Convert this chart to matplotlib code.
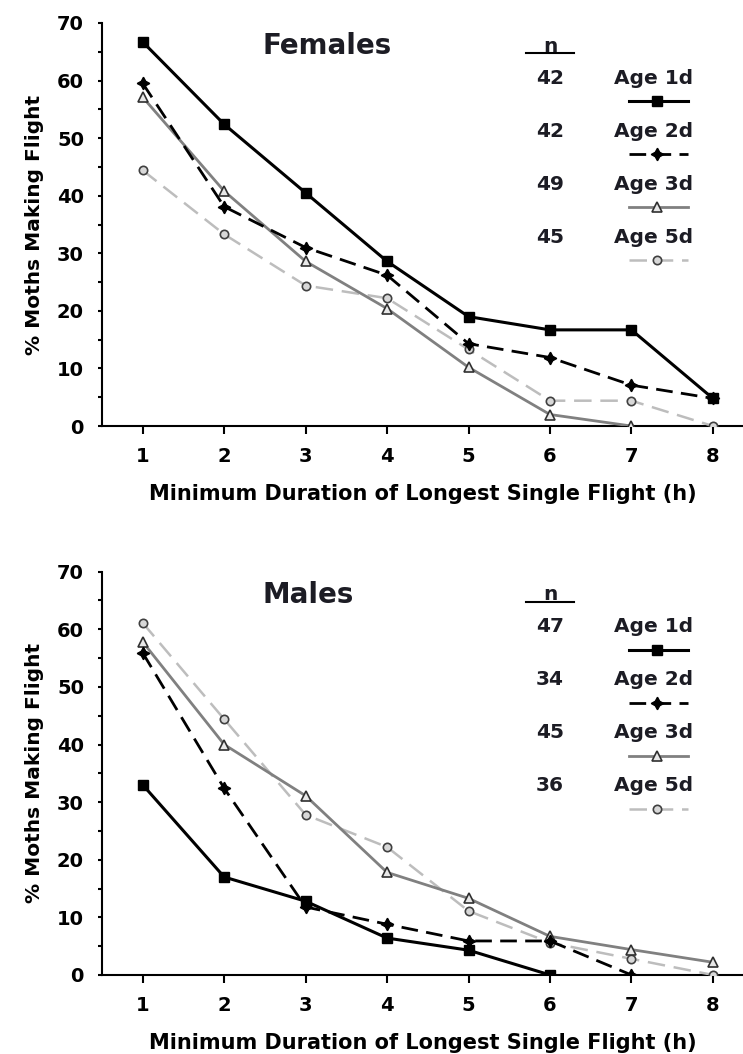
import numpy as np
import matplotlib
matplotlib.use('Agg')
import matplotlib.pyplot as plt

plt.rcParams['font.family'] = ['DejaVu Sans']
plt.rcParams['font.weight'] = 'bold'

hours = [1, 2, 3, 4, 5, 6, 7, 8]
ages = ['Age 1d', 'Age 2d', 'Age 3d', 'Age 5d']

# females, % of moths making a flight of at least x hours
fem_1d = [66.7, 52.4, 40.5, 28.6, 19.0, 16.7, 16.7, 4.8]
fem_2d = [59.5, 38.1, 31.0, 26.2, 14.3, 11.9, 7.1, 4.8]
fem_3d = [57.1, 40.8, 28.6, 20.4, 10.2, 2.0, 0.0, np.nan]
fem_5d = [44.4, 33.3, 24.4, 22.2, 13.3, 4.4, 4.4, 0.0]
fem_n = [42, 42, 49, 45]

# males
mal_1d = [33.0, 17.0, 12.8, 6.4, 4.3, 0.0, np.nan, np.nan]
mal_2d = [55.9, 32.4, 11.8, 8.8, 5.9, 5.9, 0.0, np.nan]
mal_3d = [57.8, 40.0, 31.1, 17.8, 13.3, 6.7, 4.4, 2.2]
mal_5d = [61.1, 44.4, 27.8, 22.2, 11.1, 5.6, 2.8, 0.0]
mal_n = [47, 34, 45, 36]

styles = [
    dict(color='black', lw=2.2, marker='s', ms=7, mfc='black', mec='black', zorder=6),
    dict(color='black', lw=2.0, dashes=[6, 3], marker=(4, 1, 0), ms=9, mfc='black', mec='black', zorder=5),
    dict(color='#808080', lw=2.0, marker='^', ms=7, mfc='#e8e8e8', mec='#303030', mew=1.2, zorder=4),
    dict(color='#bdbdbd', lw=1.8, dashes=[7, 3.5], marker='o', ms=6, mfc='#d8d8d8', mec='#404040', mew=1.2, zorder=3),
]

TXT = '#1c1c24'
MARKER_KEYS = ('marker', 'ms', 'mfc', 'mec', 'mew')


def panel(ax, series, ns, title):
    for vals, st in zip(series, styles):
        ax.plot(hours, vals, **st)

    ax.set_xlim(0.5, 8.37)
    ax.set_ylim(0, 70)
    ax.set_xticks(hours)
    ax.set_yticks(np.arange(0, 71, 10))
    ax.set_yticks(np.arange(5, 70, 10), minor=True)
    ax.spines['top'].set_visible(False)
    ax.spines['right'].set_visible(False)
    ax.spines['left'].set_linewidth(1.5)
    ax.spines['bottom'].set_linewidth(1.5)
    ax.tick_params(axis='x', length=6, width=1.5, pad=9, labelsize=14)
    ax.tick_params(axis='y', which='both', length=3, width=1.5, pad=10, labelsize=14)
    ax.set_xlabel('Minimum Duration of Longest Single Flight (h)', fontsize=15,
                  fontweight='bold', labelpad=13)
    ax.set_ylabel('% Moths Making Flight', fontsize=14.5, fontweight='bold', labelpad=9)

    ax.text(2.47, 66, title, fontsize=20, fontweight='bold', color=TXT,
            ha='left', va='center')

    # hand made legend with sample sizes
    ax.text(6.0, 66, 'n', fontsize=14.5, fontweight='bold', color=TXT, ha='center', va='center')
    ax.plot([5.7, 6.3], [64.7, 64.7], color='black', lw=1.5, clip_on=False)
    for i, (age, n, st) in enumerate(zip(ages, ns, styles)):
        yy = 60.4 - i * 9.2
        ax.text(6.0, yy, str(n), fontsize=14.5, fontweight='bold', color=TXT,
                ha='center', va='center')
        ax.text(7.27, yy, age, fontsize=14.5, fontweight='bold', color=TXT,
                ha='center', va='center')
        line_st = {k: v for k, v in st.items() if k not in MARKER_KEYS}
        ax.plot([6.97, 7.70], [yy - 4.0, yy - 4.0], clip_on=False, **line_st)
        mk_st = {k: v for k, v in st.items() if k in MARKER_KEYS + ('color', 'zorder')}
        ax.plot([7.32], [yy - 4.0], ls='none', clip_on=False, **mk_st)


fig = plt.figure(figsize=(7.43, 10.54), dpi=100)
ax1 = fig.add_axes([0.1373, 0.5958, 0.8627, 0.3824])
ax2 = fig.add_axes([0.1373, 0.0750, 0.8627, 0.3826])

panel(ax1, [fem_1d, fem_2d, fem_3d, fem_5d], fem_n, 'Females')
panel(ax2, [mal_1d, mal_2d, mal_3d, mal_5d], mal_n, 'Males')

fig.savefig('out.png', dpi=100)
